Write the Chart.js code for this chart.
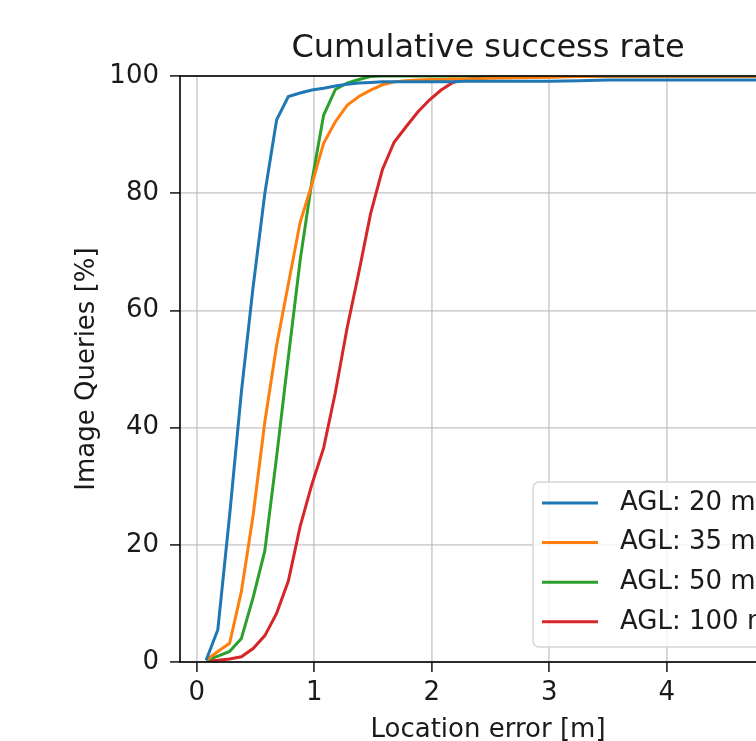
<!DOCTYPE html>
<html>
<head>
<meta charset="utf-8">
<title>Cumulative success rate</title>
<script src="https://cdn.jsdelivr.net/npm/chart.js@4/dist/chart.umd.min.js"></script>
<style>
  html, body { margin: 0; padding: 0; background: #fff; overflow: hidden; }
  #wrap { width: 756px; height: 741px; overflow: hidden; }
</style>
</head>
<body>
<div id="wrap"><canvas id="cdf" width="820" height="741"></canvas></div>
<script>
// location error thresholds [m]
const errX = [0.08, 0.18, 0.28, 0.38, 0.48, 0.58, 0.68, 0.78, 0.88, 0.98,
              1.08, 1.18, 1.28, 1.38, 1.48, 1.58, 1.68, 1.78, 1.88, 1.98,
              2.08, 2.18, 2.28, 2.38, 2.48, 2.75, 3.0, 3.25, 3.5, 4.0, 4.5, 5.0];

// share of image queries under the threshold [%]
const agl20 = [0.3, 5.5, 25, 46, 64, 80, 92.5, 96.5, 97.1, 97.6,
               97.9, 98.3, 98.6, 98.8, 98.9, 99.0, 99.0, 99.0, 99.0, 99.0,
               99.0, 99.0, 99.1, 99.1, 99.1, 99.1, 99.1, 99.2, 99.3, 99.3, 99.3, 99.3];
const agl35 = [0.3, 1.8, 3.2, 12, 25, 41, 54, 64.5, 75, 81.5,
               88.5, 92.2, 95, 96.5, 97.6, 98.5, 99.0, 99.2, 99.3, 99.4,
               99.4, 99.5, 99.5, 99.5, 99.6, 99.7, 99.8, 99.9, 100, 100, 100, 100];
const agl50 = [0.3, 1.0, 1.8, 4.0, 11, 19, 35, 52, 68.5, 82,
               93.3, 97.7, 98.8, 99.4, 99.9, 100, 100, 100, 100, 100,
               100, 100, 100, 100, 100, 100, 100, 100, 100, 100, 100, 100];
const agl100 = [0.2, 0.3, 0.5, 0.9, 2.3, 4.5, 8.3, 13.8, 23.1, 30.3,
                36.5, 46, 57, 66.5, 76.5, 84, 88.7, 91.3, 93.8, 95.9,
                97.6, 98.9, 99.4, 99.6, 99.8, 100, 100, 100, 100, 100, 100, 100];

const seriesLabels = ['AGL: 20 m', 'AGL: 35 m', 'AGL: 50 m', 'AGL: 100 m'];
const seriesColors = ['#1f77b4', '#ff7f0e', '#2ca02c', '#d62728'];

const xTicks = [0, 1, 2, 3, 4, 5];
const yTicks = [0, 20, 40, 60, 80, 100];

const FONT = 'DejaVu Sans';
const TEXT = '#1a1a1a';

function toPoints(ys) {
    return errX.map((x, i) => ({ x: x, y: ys[i] }));
}

const datasets = [agl20, agl35, agl50, agl100].map((ys, i) => ({
    label: seriesLabels[i],
    data: toPoints(ys),
    borderColor: seriesColors[i],
    backgroundColor: seriesColors[i],
    borderWidth: 3,
    pointRadius: 0,
    tension: 0,
    fill: false
}));

// matplotlib style frame, drawn over the lines
const frame = {
    id: 'frame',
    afterDatasetsDraw(chart) {
        const { ctx, chartArea: a } = chart;
        ctx.save();
        ctx.strokeStyle = '#000';
        ctx.lineWidth = 1.6;
        ctx.strokeRect(a.left, a.top, a.right - a.left, a.bottom - a.top);
        ctx.restore();
    }
};

// legend box in the lower right corner of the axes
const legendBox = {
    id: 'legendBox',
    afterDraw(chart) {
        const { ctx, chartArea: a } = chart;
        const w = 250, h = 165;
        const x = a.right - 13 - w;
        const y = a.bottom - 15 - h;
        ctx.save();
        ctx.beginPath();
        ctx.roundRect(x, y, w, h, 6);
        ctx.fillStyle = 'rgba(255,255,255,0.8)';
        ctx.fill();
        ctx.strokeStyle = '#d6d6d6';
        ctx.lineWidth = 1.5;
        ctx.stroke();
        ctx.font = '26px "' + FONT + '"';
        ctx.textBaseline = 'middle';
        ctx.textAlign = 'left';
        chart.data.datasets.forEach((ds, i) => {
            const cy = y + 21 + i * 39.6;
            ctx.beginPath();
            ctx.moveTo(x + 9, cy);
            ctx.lineTo(x + 65, cy);
            ctx.strokeStyle = ds.borderColor;
            ctx.lineWidth = 3;
            ctx.stroke();
            ctx.fillStyle = TEXT;
            ctx.fillText(ds.label, x + 87, cy);
        });
        ctx.restore();
    }
};

new Chart(document.getElementById('cdf'), {
    type: 'line',
    data: { datasets: datasets },
    plugins: [frame, legendBox],
    options: {
        responsive: false,
        animation: false,
        layout: { padding: { left: 0, right: 24, top: 0, bottom: 0 } },
        scales: {
            x: {
                type: 'linear',
                min: -0.142,
                max: 5.1,
                afterBuildTicks: (scale) => { scale.ticks = xTicks.map(v => ({ value: v })); },
                afterFit: (scale) => { scale.height = 79; },
                ticks: {
                    color: TEXT,
                    padding: 6,
                    font: { family: FONT, size: 26 }
                },
                grid: {
                    color: 'rgba(176,176,176,0.55)',
                    lineWidth: 1.8,
                    tickColor: '#222',
                    tickLength: 10,
                    tickWidth: 1.6
                },
                border: { display: false },
                title: {
                    display: true,
                    text: 'Location error [m]',
                    color: TEXT,
                    font: { family: FONT, size: 26 },
                    padding: { top: 0, bottom: -5 }
                }
            },
            y: {
                min: 0,
                max: 100,
                afterBuildTicks: (scale) => { scale.ticks = yTicks.map(v => ({ value: v })); },
                afterFit: (scale) => { scale.width = 180; },
                ticks: {
                    color: TEXT,
                    padding: 11,
                    font: { family: FONT, size: 26 }
                },
                grid: {
                    color: 'rgba(176,176,176,0.55)',
                    lineWidth: 1.8,
                    tickColor: '#222',
                    tickLength: 10,
                    tickWidth: 1.6
                },
                border: { display: false },
                title: {
                    display: true,
                    text: 'Image Queries [%]',
                    color: TEXT,
                    font: { family: FONT, size: 26 },
                    padding: { top: 72, bottom: 0 }
                }
            }
        },
        plugins: {
            legend: { display: false },
            tooltip: { enabled: false },
            title: {
                display: true,
                fullSize: false,
                text: 'Cumulative success rate',
                color: TEXT,
                font: { family: FONT, size: 32, weight: 'normal' },
                padding: { top: 29, bottom: 8.6 }
            }
        }
    }
});
</script>
</body>
</html>
